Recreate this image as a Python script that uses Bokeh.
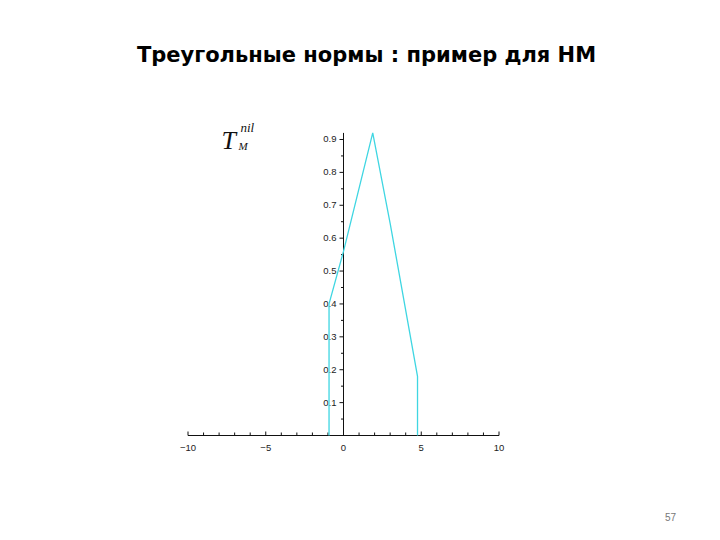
from bokeh.plotting import figure
from bokeh.models import Range1d, Label
from bokeh.core.properties import value
from bokeh.embed import file_html
from bokeh.resources import INLINE
import math

# ---- data ----
curve_x = [-0.93, -0.93, 0.0, 1.88, 3.0, 4.76, 4.76]
curve_y = [0.0, 0.40, 0.56, 0.92, 0.645, 0.18, 0.0]

x_major = [-10, -5, 0, 5, 10]
x_major_labels = ["\u221210", "\u22125", "0", "5", "10"]
x_minor = [v for v in range(-10, 11) if v % 5 != 0]
y_major = [0.1, 0.2, 0.3, 0.4, 0.5, 0.6, 0.7, 0.8, 0.9]
y_major_labels = ["0.1", "0.2", "0.3", "0.4", "0.5", "0.6", "0.7", "0.8", "0.9"]
y_minor = [0.05, 0.15, 0.25, 0.35, 0.45, 0.55, 0.65, 0.75, 0.85]
x_axis_span = [-10, 10]
y_axis_span = [0, 0.92]

title_text = "Треугольные нормы : пример для НМ"
page_number = "57"

# ---- layout ----
W, H = 704, 524
px_x = 15.55   # pixels per x unit
px_y = 328.9   # pixels per y unit
x0_px, y0_px = 343, 89   # canvas position of origin (from left, from bottom)

p = figure(width=W, height=H, output_backend="svg", toolbar_location=None,
           x_axis_location=None, y_axis_location=None, title=None,
           x_range=Range1d(-x0_px / px_x, (W - x0_px) / px_x),
           y_range=Range1d(-y0_px / px_y, (H - y0_px) / px_y),
           min_border=0, min_border_left=0, min_border_right=0,
           min_border_top=0, min_border_bottom=0)
p.grid.visible = False
p.outline_line_color = None
p.background_fill_color = "white"
p.border_fill_color = "white"

axis_col = "#111111"
# axes lines through origin
p.line(x_axis_span, [0, 0], line_color=axis_col, line_width=1)
p.line([0, 0], y_axis_span, line_color=axis_col, line_width=1)

# ticks
p.ray(x=x_major, y=[0] * len(x_major), length=4, length_units="screen",
      angle=math.pi / 2, line_color=axis_col, line_width=1)
p.ray(x=x_minor, y=[0] * len(x_minor), length=3, length_units="screen",
      angle=math.pi / 2, line_color=axis_col, line_width=1)
p.ray(x=[0] * len(y_major), y=y_major, length=4, length_units="screen",
      angle=math.pi, line_color=axis_col, line_width=1)
p.ray(x=[0] * len(y_minor), y=y_minor, length=2.5, length_units="screen",
      angle=math.pi, line_color=axis_col, line_width=1)

# tick labels
p.text(x=x_major, y=[0] * len(x_major), text=x_major_labels,
       text_align="center", text_baseline="top", y_offset=9,
       text_font=value("Liberation Sans"), text_font_size="9.5px", text_color="#222222")
p.text(x=[0] * len(y_major), y=y_major, text=y_major_labels,
       text_align="right", text_baseline="middle", x_offset=-7,
       text_font=value("Liberation Sans"), text_font_size="9.5px", text_color="#222222")

# the curve
p.line(curve_x, curve_y, line_color="#3fd6e2", line_width=1.3)

# T_M^nil label
p.add_layout(Label(x=221, y=384, x_units="screen", y_units="screen", text="T",
                   text_font="Liberation Serif", text_font_style="italic",
                   text_font_size="26px", text_color="#111111",
                   text_baseline="alphabetic"))
p.add_layout(Label(x=240, y=397, x_units="screen", y_units="screen", text="nil",
                   text_font="Liberation Serif", text_font_style="italic",
                   text_font_size="13px", text_color="#111111",
                   text_baseline="alphabetic"))
p.add_layout(Label(x=238, y=379, x_units="screen", y_units="screen", text="M",
                   text_font="Liberation Serif", text_font_style="italic",
                   text_font_size="11px", text_color="#111111",
                   text_baseline="alphabetic"))

# slide title and page number
p.add_layout(Label(x=366, y=470, x_units="screen", y_units="screen", text=title_text,
                   text_font="DejaVu Sans", text_font_style="bold",
                   text_font_size="21px", text_color="#000000",
                   text_align="center", text_baseline="alphabetic"))
p.add_layout(Label(x=670, y=8, x_units="screen", y_units="screen", text=page_number,
                   text_font="Liberation Sans", text_font_size="10px",
                   text_color="#777777", text_align="center",
                   text_baseline="alphabetic"))

open("out.html", "w").write(file_html(p, INLINE))
